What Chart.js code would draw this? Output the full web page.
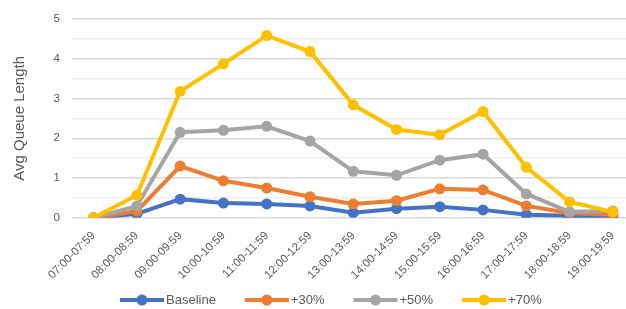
<!DOCTYPE html>
<html><head><meta charset="utf-8">
<script src="https://cdn.jsdelivr.net/npm/chart.js@4/dist/chart.umd.min.js"></script>
<style>html,body{margin:0;padding:0;overflow:hidden;background:#fff;width:626px;height:309px}#wrap{width:640px;height:309px}</style>
</head><body><div id="wrap"><canvas id="c" width="640" height="309"></canvas></div>
<script>
const categories = ["07:00-07:59","08:00-08:59","09:00-09:59","10:00-10:59","11:00-11:59","12:00-12:59","13:00-13:59","14:00-14:59","15:00-15:59","16:00-16:59","17:00-17:59","18:00-18:59","19:00-19:59"];
const baseline = [0, 0.10, 0.47, 0.37, 0.35, 0.30, 0.13, 0.23, 0.28, 0.20, 0.08, 0.05, 0.03];
const plus30 = [0, 0.17, 1.30, 0.93, 0.75, 0.53, 0.35, 0.43, 0.73, 0.70, 0.30, 0.12, 0.08];
const plus50 = [0, 0.30, 2.15, 2.20, 2.30, 1.93, 1.17, 1.07, 1.45, 1.60, 0.60, 0.15, 0.17];
const plus70 = [0, 0.57, 3.18, 3.87, 4.58, 4.18, 2.84, 2.22, 2.09, 2.67, 1.27, 0.40, 0.15];
const seriesNames = ["Baseline", "+30%", "+50%", "+70%"];
const yTicks = [0, 1, 2, 3, 4, 5];
const colors = ["#4472C4", "#ED7D31", "#A5A5A5", "#FFC000"];
const textColor = "#595959";
const FONT = "'Liberation Sans', Arial, sans-serif";

const seriesData = [baseline, plus30, plus50, plus70];
const datasets = seriesData.map((d, i) => ({
  label: seriesNames[i], data: d, borderColor: colors[i], backgroundColor: colors[i],
  borderWidth: 4, pointRadius: 5.5, pointHoverRadius: 5.5, pointBorderWidth: 0,
  tension: 0, order: 3 - i
}));

const legendPlugin = {
  id: 'customLegend',
  afterDraw(chart) {
    const ctx = chart.ctx;
    ctx.save();
    ctx.font = "13px " + FONT;
    ctx.textBaseline = 'middle';
    let x = 120; const y = 300;
    chart.data.datasets.forEach(ds => {
      ctx.strokeStyle = ds.borderColor; ctx.lineWidth = 4;
      ctx.beginPath(); ctx.moveTo(x, y); ctx.lineTo(x + 44, y); ctx.stroke();
      ctx.fillStyle = ds.borderColor;
      ctx.beginPath(); ctx.arc(x + 22, y, 5.5, 0, Math.PI * 2); ctx.fill();
      ctx.fillStyle = textColor;
      ctx.fillText(ds.label, x + 46, y);
      x += 46 + ctx.measureText(ds.label).width + 29;
    });
    ctx.restore();
  }
};

new Chart(document.getElementById('c'), {
  type: 'line',
  data: { labels: categories, datasets },
  plugins: [legendPlugin],
  options: {
    responsive: false, animation: false,
    layout: { padding: { top: 8, right: 3, bottom: 16, left: 0 } },
    plugins: { legend: { display: false }, tooltip: { enabled: false } },
    scales: {
      x: {
        offset: true,
        grid: { display: false, drawTicks: false },
        border: { display: false },
        ticks: { color: textColor, font: { size: 11.5, family: FONT }, minRotation: 45, maxRotation: 45, padding: 11, autoSkip: false }
      },
      y: {
        min: 0, max: 5,
        afterBuildTicks(scale) {
          const t = [];
          yTicks.forEach((v, i) => { t.push({ value: v }); if (i < yTicks.length - 1) t.push({ value: v + 0.5 }); });
          scale.ticks = t;
        },
        afterFit(scale) { scale.width = 72; },
        grid: {
          color: ctx => (ctx.tick && Number.isInteger(ctx.tick.value)) ? '#D9D9D9' : '#EFEFEF',
          lineWidth: 1.5, drawTicks: false
        },
        border: { display: false },
        ticks: {
          color: textColor, font: { size: 11.5, family: FONT }, padding: 12,
          callback: v => Number.isInteger(v) ? v : ''
        },
        title: { display: true, text: 'Avg Queue Length', color: textColor, font: { size: 15, family: FONT }, padding: { top: 11, bottom: 6 } }
      }
    }
  }
});
</script></body></html>
